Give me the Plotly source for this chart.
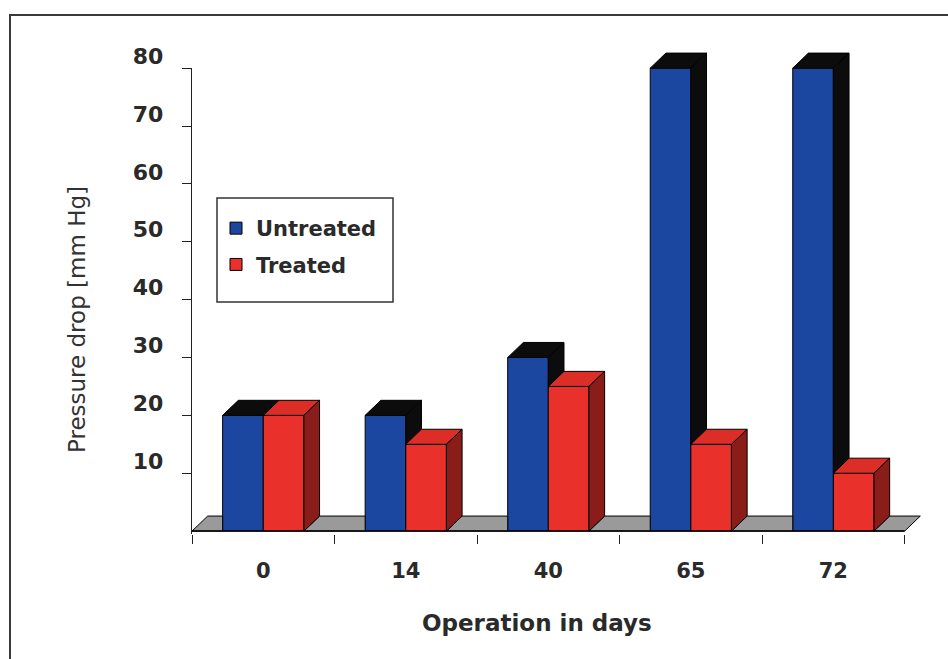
import plotly.graph_objects as go

# Data
days = ["0", "14", "40", "65", "72"]
untreated = [20, 20, 30, 80, 80]
treated = [20, 15, 25, 15, 10]
y_ticks = [10, 20, 30, 40, 50, 60, 70, 80]

# Styling
BLUE = "#1c47a0"
RED = "#e9302a"
RED_TOP = "#dc2e26"
RED_SIDE = "#8a1d19"
DARK = "#0c0c0c"
FLOOR = "#9a9a9a"
TEXT = "#2a2a2a"
FONT = "DejaVu Sans"

BAR_W = 0.285   # width of one bar in category units
DX = 0.11       # depth offset (category units)
DY = 2.6        # depth offset (value units)

W, H = 948, 659
L, R, T, B = 192, 22, 45, 125
PW, PH = W - L - R, H - T - B
Y_MIN, Y_MAX = -0.5, 84.0


def px_x(p):
    return (p - L) / PW


def px_y(p):
    return (H - B - p) / PH


idx = list(range(len(days)))
x_lo, x_hi = -0.5, len(days) - 0.5


def merge(polys):
    xs, ys = [], []
    for px, py in polys:
        xs += px + [px[0], None]
        ys += py + [py[0], None]
    return xs, ys


def top_face(x0, x1, v):
    return [x0, x1, x1 + DX, x0 + DX], [v, v, v + DY, v + DY]


def side_face(x, v_low, v):
    return [x, x + DX, x + DX, x], [v_low, v_low + DY, v + DY, v]


# visible pieces of the floor between the bar groups
floor_pieces = []
left_edges = [x_lo] + [i + BAR_W for i in idx]
right_edges = [i - BAR_W for i in idx] + [x_hi]
for k, (a, b) in enumerate(zip(left_edges, right_edges)):
    if k < len(idx):
        floor_pieces.append(([a, b, b, a + DX], [0, 0, DY, DY]))
    else:
        floor_pieces.append(([a, b, b + DX, a + DX], [0, 0, DY, DY]))
floor = merge(floor_pieces)

blue_tops = merge([top_face(i - BAR_W, i, u) for i, u in zip(idx, untreated)])
blue_sides = merge([side_face(i, t, u) for i, u, t in zip(idx, untreated, treated) if u > t])
red_tops = merge([top_face(i, i + BAR_W, t) for i, t in zip(idx, treated)])
red_sides = merge([side_face(i + BAR_W, 0, t) for i, t in zip(idx, treated)])


def poly_trace(xy, color):
    return go.Scatter(
        x=xy[0], y=xy[1], mode="lines", fill="toself", fillcolor=color,
        line=dict(color="#000", width=1), hoverinfo="skip", showlegend=False,
    )


fig = go.Figure()
fig.add_trace(go.Bar(
    x=idx, y=untreated, name="Untreated", legendgroup="u",
    marker=dict(color=BLUE, line=dict(color="#000", width=1)),
))
fig.add_trace(go.Bar(
    x=idx, y=treated, name="Treated", legendgroup="t",
    marker=dict(color=RED, line=dict(color="#000", width=1)),
))
fig.add_trace(poly_trace(floor, FLOOR))
fig.add_trace(poly_trace(blue_tops, DARK))
fig.add_trace(poly_trace(blue_sides, DARK))
fig.add_trace(poly_trace(red_tops, RED_TOP))
fig.add_trace(poly_trace(red_sides, RED_SIDE))
# carrier for the value axis
fig.add_trace(go.Scatter(x=[0], y=[0], yaxis="y2", mode="markers",
                         marker=dict(opacity=0), hoverinfo="skip", showlegend=False))

# base line of the floor
fig.add_trace(go.Scatter(x=[x_lo, x_hi], y=[0, 0], mode="lines",
                         line=dict(color="#000", width=1.5), hoverinfo="skip", showlegend=False))

fig.update_layout(
    width=W, height=H,
    margin=dict(l=L, r=R, t=T, b=B),
    paper_bgcolor="white", plot_bgcolor="rgba(0,0,0,0)",
    barmode="group", bargap=0.43, bargroupgap=0,
    showlegend=True,
    legend=dict(
        x=px_x(216), y=px_y(208), xanchor="left", yanchor="top",
        bgcolor="rgba(0,0,0,0)", borderwidth=0,
        font=dict(family=FONT, size=21, color=TEXT, weight="bold"),
        tracegroupgap=6, traceorder="grouped",
    ),
    xaxis=dict(
        range=[x_lo, x_hi + 0.15], tickvals=idx, ticktext=days, ticks="",
        showline=False, showgrid=False, zeroline=False,
        tickfont=dict(family=FONT, size=21, color=TEXT, weight="bold"),
        ticklabelstandoff=22,
        minor=dict(tickvals=[i - 0.5 for i in range(len(days) + 1)], ticks="outside",
                   ticklen=9, tickwidth=1.3, tickcolor="#222", showgrid=False),
    ),
    yaxis=dict(range=[Y_MIN, Y_MAX], visible=False),
    yaxis2=dict(
        domain=[0, (80 - Y_MIN) / (Y_MAX - Y_MIN)], range=[Y_MIN, 80], anchor="x",
        showline=True, linecolor="#222", linewidth=1.3,
        ticks="outside", ticklen=9, tickwidth=1.3, tickcolor="#222",
        tickvals=y_ticks, showgrid=False, zeroline=False,
        tickfont=dict(family=FONT, size=22, color=TEXT, weight="bold"),
        ticklabelstandoff=14, ticklabelshift=-12,
    ),
    shapes=[
        dict(type="rect", xref="paper", yref="paper",
             x0=px_x(10), y0=px_y(15), x1=px_x(960), y1=px_y(680),
             line=dict(color="#3a3a3a", width=2), layer="below"),
        dict(type="rect", xref="paper", yref="paper",
             x0=px_x(217), y0=px_y(198), x1=px_x(393), y1=px_y(302),
             line=dict(color="#333", width=1.5), fillcolor="white", layer="below"),
    ],
    annotations=[
        dict(text="Operation in days", xref="paper", yref="paper",
             x=px_x(537), y=px_y(623), xanchor="center", yanchor="middle", showarrow=False,
             font=dict(family=FONT, size=23, color=TEXT, weight="bold")),
        dict(text="Pressure drop [mm Hg]", xref="paper", yref="paper",
             x=px_x(77), y=px_y(319), xanchor="center", yanchor="middle", showarrow=False,
             textangle=-90, font=dict(family=FONT, size=23, color="#333")),
    ],
)

fig.write_html("out.html")
